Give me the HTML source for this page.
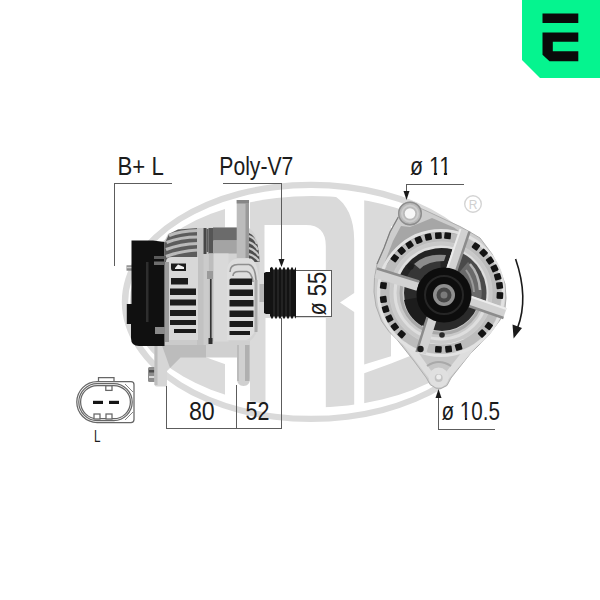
<!DOCTYPE html>
<html>
<head>
<meta charset="utf-8">
<title>Alternator</title>
<style>
html,body{margin:0;padding:0;background:#fff;}
body{width:600px;height:600px;overflow:hidden;font-family:"Liberation Sans",sans-serif;}
svg{display:block;}
text{font-family:"Liberation Sans",sans-serif;fill:#1c1c1c;}
</style>
</head>
<body>
<svg width="600" height="600" viewBox="0 0 600 600">
<defs>
  <clipPath id="innerEl"><ellipse cx="312.200" cy="301.800" rx="182.300" ry="105.750"/></clipPath>
  <clipPath id="eClip"><rect x="100" y="150" width="125" height="300"/></clipPath>
  <linearGradient id="silverV" x1="0" y1="0" x2="0" y2="1">
    <stop offset="0" stop-color="#8c8c8c"/><stop offset="0.3" stop-color="#c9c9c9"/><stop offset="1" stop-color="#d6d6d6"/>
  </linearGradient>
  <linearGradient id="silverH" x1="0" y1="0" x2="1" y2="0">
    <stop offset="0" stop-color="#bdbdbd"/><stop offset="0.5" stop-color="#dedede"/><stop offset="1" stop-color="#b5b5b5"/>
  </linearGradient>
  <radialGradient id="frontBody" cx="0.5" cy="0.5" r="0.5">
    <stop offset="0" stop-color="#555"/><stop offset="0.55" stop-color="#8a8a8a"/><stop offset="0.8" stop-color="#c8c8c8"/><stop offset="1" stop-color="#b0b0b0"/>
  </radialGradient>
</defs>
<rect width="600" height="600" fill="#ffffff"/>

<!-- ===== WATERMARK ===== -->
<g id="wm" fill="#dadada">
  <!-- outer ring -->
  <path fill-rule="evenodd" d="M121.8,301.9 a189.2,120.2 0 1,0 378.4,0 a189.2,120.2 0 1,0 -378.4,0 Z M128.2,301.9 a182.8,113.9 0 1,0 365.6,0 a182.8,113.9 0 1,0 -365.6,0 Z"/>
  <g clip-path="url(#innerEl)">
    <!-- E : band between two ellipses, cut at x=225, plus middle arm -->
    <g clip-path="url(#eClip)">
      <path fill-rule="evenodd" d="M120,180 H225 V425 H120 Z M153.400,301.800 a158.800,74.400 0 1,0 317.600,0 a158.800,74.400 0 1,0 -317.600,0 Z"/>
      <rect x="150" y="288" width="75" height="28"/>
    </g>
    <!-- R -->
    <path fill-rule="evenodd" d="M250,190 H322 C342,196 354.200,212 354.200,240 V293 L340,302.500 L354.200,312 V415 H325.800 V318 H265.500 V415 H250 Z M264.500,225 V300 H325.800 V246 Q325.800,225 306,225 Z"/>
    <!-- A -->
    <path d="M364.200,190 H500 V226 H391 V356.300 L364.200,364.500 Z"/>
    <path d="M364.200,373.300 L391,363.500 L410,356 L440,342 L470,325 V415 H364.200 Z"/>
  </g>
</g>
<!-- ===== SIDE VIEW ALTERNATOR ===== -->
<g id="side">
  <!-- stud -->
  <rect x="126.500" y="265.300" width="6" height="5.400" fill="#8a8a8a"/>
  <rect x="126.500" y="266.800" width="6" height="1.500" fill="#d0d0d0"/>
  <!-- bolt bottom-left -->
  <rect x="148" y="367" width="8" height="15" rx="1.500" fill="#8d8d8d"/>
  <rect x="149" y="370" width="5.500" height="2.500" fill="#4c4c4c"/>
  <rect x="149" y="376" width="5.500" height="2" fill="#d8d8d8"/>
  <!-- rear foot -->
  <path d="M154.500,340 H206 V357.500 H180.500 L167,371 V386.500 H156.500 Q154.500,386.500 154.500,384.500 Z" fill="#d6d6d6"/>
  <path d="M160,340 H206 V357.500 H180.500 L170,368 Z" fill="#bcbcbc"/>
  <path d="M154.500,343 V385 H157.500 V343 Z" fill="#bdbdbd"/>
  <!-- body bottom / front foot -->
  <path d="M206,338 H250 V378 Q250,386 243.500,386 Q237,386 237,378 V357.500 H206 Z" fill="#d0d0d0"/>
  <rect x="245" y="345" width="4.500" height="36" fill="#b0b0b0"/>
  <rect x="237" y="345" width="2" height="36" fill="#bcbcbc"/>
  <!-- rear housing -->
  <path d="M164,242 L168,234 L178,229.500 L203,228 H212 V345 H164 Z" fill="#cbcbcb"/>
  <!-- top fins shading -->
  <path d="M165,243 L169,234 L178,229.500 L198,228 V262 H165 Z" fill="#5c5c5c"/>
  <g stroke="#bababa" stroke-width="3.200" fill="none">
    <path d="M169,235.500 Q180,231 198,230.500"/>
    <path d="M166.500,242.500 Q180,237 198,237"/>
    <path d="M166,249.500 Q180,244 198,243.500"/>
    <path d="M166,256.500 Q180,251 198,250"/>
  </g>
  <rect x="197" y="228" width="6.500" height="117" fill="#c2c2c2"/>
  <path d="M166,262 Q166,257 172,257 H198 V340 H166 Z" fill="#d8d8d8"/>
  <rect x="165" y="262" width="4" height="80" fill="#9c9c9c"/>
  <!-- rear slots -->
  <g fill="#1b1b1b">
    <path d="M171,263.500 H186 V271 H173 Q171,271 171,268 Z"/>
    <path d="M171,278 H188 V284.500 H171 Z"/>
    <path d="M170,288.500 H196 V295 H170 Z"/>
    <path d="M170,299.500 H196 V305.500 H170 Z"/>
    <path d="M170,310 H196 V316 H170 Z"/>
    <path d="M170,320 H196 V325 H170 Z"/>
    <path d="M174,329 H196 V333 H174 Z"/>
  </g>
  <path d="M175,268 L178,264.500 L184,267 V269 H175 Z" fill="#f0f0f0"/>
  <!-- mid section -->
  <rect x="203.500" y="228" width="3" height="26" fill="#474747"/>
  <rect x="206.500" y="229" width="6.500" height="23" fill="#5e5e5e"/>
  <!-- front housing -->
  <path d="M208.500,254 V227.500 H248 Q259,232 259.500,262 V318 Q258,336 250,341 H208.500 Z" fill="#d3d3d3"/>
  <rect x="208.500" y="228" width="5" height="26" fill="#555"/>
  <rect x="213" y="227.500" width="24" height="13" fill="#6b6b6b"/>
  <rect x="213" y="240.500" width="24" height="13" fill="#a4a4a4"/>
  <rect x="208.500" y="253.500" width="20" height="88" fill="#d9d9d9"/>
  <rect x="208.500" y="253.500" width="5" height="88" fill="#bdbdbd"/>
  <rect x="210" y="278" width="1.600" height="64" fill="#333"/>
  <rect x="207" y="271" width="6" height="8" fill="#9a9a9a"/>
  <rect x="208.500" y="338" width="4" height="6" fill="#2f2f2f"/>
  <!-- lug -->
  <rect x="236.700" y="200" width="12.300" height="58" fill="#bcbcbc"/>
  <rect x="236.700" y="200" width="12.300" height="3.500" fill="#868686"/>
  <rect x="245.500" y="203" width="3.500" height="55" fill="#9a9a9a"/>
  <!-- upper right fins -->
  <path d="M249,233 Q259,237 259.500,262 H249 Z" fill="#4d4d4d"/>
  <g stroke="#c9c9c9" stroke-width="2.200" fill="none">
    <path d="M249,236 Q255,238 257,244"/>
    <path d="M249,242 Q255,244 258,250"/>
    <path d="M249,248 Q255,250 259,256"/>
    <path d="M249,254 Q255,256 259,261"/>
  </g>
  <!-- front fins -->
  <path d="M227,272 Q227,258.500 240,258.500 H251 Q259,262 259.300,290 Q259.300,322 256,329 Q252,338 246,340 H227 Z" fill="#dddddd"/>
  <g stroke="#8f8f8f" stroke-width="1.600" fill="none">
    <path d="M230,272 Q230,264.500 238,264.500 H249 Q255,266 256,280"/>
    <path d="M233,276 Q233,271.500 239,271.500 H247 Q252,273 253,282"/>
  </g>
  <g fill="#1b1b1b">
    <path d="M231,278.500 H252 V285 H229.500 V280 Q229.500,278.500 231,278.500 Z"/>
    <path d="M229.500,289.500 H253 V296 H229.500 Z"/>
    <path d="M229.500,300 H253.500 V306.500 H229.500 Z"/>
    <path d="M229.500,310.500 H253.500 V317 H229.500 Z"/>
    <path d="M229.500,321 H253 V327 H229.500 Z"/>
    <path d="M229.500,331 H250 V335 H229.500 Z"/>
  </g>
  <rect x="254.500" y="280" width="3" height="52" fill="#ababab"/>
  <!-- black cover -->
  <path d="M131.500,240.500 H153 L164.500,242 V346 H139 Q131,346 131,338 V324 H126.800 V304 H131.500 Z" fill="#101010"/>
  <rect x="155" y="327" width="10" height="7" fill="#8a8a8a"/>
  <rect x="146" y="262" width="2.500" height="60" fill="#2e2e2e"/>
  <rect x="154" y="256" width="10.500" height="3" fill="#5a5a5a"/>
  <rect x="154" y="261.500" width="10.500" height="3.500" fill="#6e6e6e"/>
  <!-- pulley -->
  <path d="M264,273 L266,272 H270 V268 L272,266.8 L274,270.3 L276,266.8 L278,270.3 L280,266.8 L282,270.3 L284,266.8 L286,270.3 L288,266.8 L290,270.3 L292,266.8 L294,270.3 L296,266.8 V318.800 L294,315.7 L292,319.2 L290,315.7 L288,319.2 L286,315.7 L284,319.2 L282,315.7 L280,319.2 L278,315.7 L276,319.2 L274,315.7 L272,319.2 L270,315.7 V314 H266 L264,313 Z" fill="#131313"/>
  <g stroke="#353535" stroke-width="1">
    <path d="M274,270 V316 M278,270 V316 M282,270 V316 M286,270 V316 M290,270 V316"/>
  </g>
  <rect x="259.500" y="284" width="4.500" height="18" fill="#b5b5b5"/>
</g>

<!-- ===== FRONT VIEW ALTERNATOR ===== -->
<g id="front">
  <!-- hide ring at lower right -->
  <path d="M462,222 H525 V400 H447 V380 L462,360 Z" fill="#fff"/>
  <!-- silhouette -->
  <path d="M398.300,217 L390,232 L384,248 L377,264 L374.500,278 L374,292 L376,306 L381.500,321 L389,331.500 L397,339.500 L414,361 L426.500,378 L430,384.500 L436,388.200 L441,388.400 L447,385.500 L451,378 L470,354 L488,336 L500,320 L505,308 L506,298 L505,284 L500,270 L492,254 L480,238 L470,232 L460,226.500 L448,221 L432,213.500 L421,208.500 Z" fill="#cdcdcd" stroke="#aeaeae" stroke-width="1"/>
  <!-- top web inner shading -->
  <path d="M401,226 L393,241 L386,259 L382,270 L396,256 L416,241 L440,233.500 L464,235 L454,227.500 L432,218 L420,223 L410,227 Z" fill="#a6a6a6"/>
  <path d="M398.300,217 L390,232 L384,248 L377,264" stroke="#7d7d7d" stroke-width="1.200" fill="none"/>
  <!-- bottom web -->
  <path d="M401,342 L431,381 L439,386 L446,382 L484,338 Z" fill="#dedede"/>
  <path d="M418,352 L432,372 H446 L462,352 Z" fill="#c6c6c6"/>
  <!-- main body rings -->
  <circle cx="441" cy="293" r="62.500" fill="none" stroke="#e2e2e2" stroke-width="3"/>
  <circle cx="441" cy="293" r="56" fill="none" stroke="#bcbcbc" stroke-width="9"/>
  <circle cx="441" cy="293" r="51" fill="#c9c9c9"/>
  <circle cx="441" cy="293" r="46" fill="none" stroke="#dedede" stroke-width="3"/>
  <circle cx="441.500" cy="293" r="40.500" fill="none" stroke="#a8a8a8" stroke-width="3"/>
    <!-- interior gray details (windings) -->
  <circle cx="442" cy="293" r="38" fill="#2a2a2a"/>
  <path d="M441.5,293.0 L398.2,280.6 A45,45 0 0 1 452.4,249.3 Z" fill="#242424"/>
  <path d="M441.5,293.0 L456.9,250.7 A45,45 0 0 1 485.5,302.4 Z" fill="#4a4a4a"/>
  <path d="M442,293 L468,262 A40,40 0 0 1 481,300 Z" fill="#6a6a6a"/>
  <path d="M470,264 Q479,274 480,290" stroke="#b5b5b5" stroke-width="2.500" fill="none"/>
  <path d="M466,270 Q473,279 474,292" stroke="#9a9a9a" stroke-width="2" fill="none"/>
  <path d="M442,293 L404,300 A38,38 0 0 0 422,326 Z" fill="#1c1c1c"/>
  <path d="M442,293 L406,279 A38,38 0 0 1 440,255 Z" fill="#363636"/>
  <path d="M414,264 Q426,253 446,255 L444,261 Q428,261 420,269 Z" fill="#8c8c8c"/>
  <!-- spokes -->
  <g stroke="#d2d2d2" stroke-width="10" stroke-linecap="butt">
    <path d="M451,270 L464.500,230"/>
    <path d="M466,299.500 L505,313"/>
    <path d="M432,318 L421,353"/>
    <path d="M418,286 L376,273"/>
  </g>
  <g stroke="#8c8c8c" stroke-width="2.500">
    <path d="M456,271.500 L469.500,231.500"/>
    <path d="M464.500,304.500 L503.500,318"/>
    <path d="M427.500,317 L416.500,352"/>
    <path d="M419,281.500 L377,268.500"/>
  </g>
  <g stroke="#ececec" stroke-width="2">
    <path d="M447,269 L460.500,229"/>
    <path d="M467.500,295.500 L506.500,309"/>
  </g>
  <!-- top ear -->
  <circle cx="410" cy="213.500" r="12" fill="#b9b9b9"/>
  <circle cx="410" cy="213.500" r="11.300" fill="none" stroke="#8d8d8d" stroke-width="1.400"/>
  <circle cx="410" cy="213.500" r="8" fill="none" stroke="#cdcdcd" stroke-width="2"/>
  <circle cx="410" cy="213.500" r="5.300" fill="#f7f7f7"/>
  <!-- bottom ear -->
  <circle cx="438.700" cy="377.500" r="10" fill="#e0e0e0"/>
  <path d="M427,366 Q438.700,358 451,366" stroke="#a9a9a9" stroke-width="2" fill="none"/>
  <circle cx="438.700" cy="378" r="4" fill="#c3c3c3"/>
  <circle cx="438.700" cy="377" r="2.500" fill="#ededed"/>
  <!-- squares -->
  <g id="squares">
<rect x="380.1" y="282.3" width="6.6" height="6.6" rx="1" transform="rotate(187 383.4 285.6)" fill="#141414"/>
<rect x="391.5" y="254.9" width="6.6" height="6.6" rx="1" transform="rotate(217 394.8 258.2)" fill="#141414"/>
<rect x="398.3" y="247.5" width="6.6" height="6.6" rx="1" transform="rotate(227 401.6 250.8)" fill="#141414"/>
<rect x="406.3" y="241.4" width="6.6" height="6.6" rx="1" transform="rotate(237 409.6 244.7)" fill="#141414"/>
<rect x="415.3" y="236.7" width="6.6" height="6.6" rx="1" transform="rotate(247 418.6 240.0)" fill="#141414"/>
<rect x="425.0" y="233.7" width="6.6" height="6.6" rx="1" transform="rotate(257 428.3 237.0)" fill="#141414"/>
<rect x="435.1" y="232.3" width="6.6" height="6.6" rx="1" transform="rotate(267 438.4 235.6)" fill="#141414"/>
<rect x="444.3" y="232.5" width="6.6" height="6.6" rx="1" transform="rotate(276 447.6 235.8)" fill="#141414"/>
<rect x="472.6" y="243.1" width="6.6" height="6.6" rx="1" transform="rotate(-54 475.9 246.4)" fill="#141414"/>
<rect x="480.3" y="249.6" width="6.6" height="6.6" rx="1" transform="rotate(-44 483.6 252.9)" fill="#141414"/>
<rect x="486.7" y="257.3" width="6.6" height="6.6" rx="1" transform="rotate(-34 490.0 260.6)" fill="#141414"/>
<rect x="491.2" y="265.1" width="6.6" height="6.6" rx="1" transform="rotate(-25 494.5 268.4)" fill="#141414"/>
<rect x="494.4" y="273.5" width="6.6" height="6.6" rx="1" transform="rotate(-16 497.7 276.8)" fill="#141414"/>
<rect x="496.3" y="282.3" width="6.6" height="6.6" rx="1" transform="rotate(-7 499.6 285.6)" fill="#141414"/>
<rect x="496.6" y="292.2" width="6.6" height="6.6" rx="1" transform="rotate(3 499.9 295.5)" fill="#141414"/>
<rect x="485.5" y="322.7" width="6.6" height="6.6" rx="1" transform="rotate(36 488.8 326.0)" fill="#141414"/>
<rect x="478.8" y="330.2" width="6.6" height="6.6" rx="1" transform="rotate(46 482.1 333.5)" fill="#141414"/>
<rect x="455.3" y="343.7" width="6.6" height="6.6" rx="1" transform="rotate(73 458.6 347.0)" fill="#141414"/>
<rect x="445.3" y="345.8" width="6.6" height="6.6" rx="1" transform="rotate(83 448.6 349.1)" fill="#141414"/>
<rect x="435.1" y="346.1" width="6.6" height="6.6" rx="1" transform="rotate(93 438.4 349.4)" fill="#141414"/>
<rect x="398.3" y="330.9" width="6.6" height="6.6" rx="1" transform="rotate(133 401.6 334.2)" fill="#141414"/>
<rect x="391.5" y="323.5" width="6.6" height="6.6" rx="1" transform="rotate(143 394.8 326.8)" fill="#141414"/>
<rect x="386.1" y="315.1" width="6.6" height="6.6" rx="1" transform="rotate(153 389.4 318.4)" fill="#141414"/>
<rect x="382.3" y="305.9" width="6.6" height="6.6" rx="1" transform="rotate(163 385.6 309.2)" fill="#141414"/>
<rect x="380.1" y="296.1" width="6.6" height="6.6" rx="1" transform="rotate(173 383.4 299.4)" fill="#141414"/>

  </g>
  <!-- small bolts -->
  <circle cx="410.500" cy="266.500" r="3.200" fill="#1d1d1d"/>
  <circle cx="420.500" cy="349" r="3.200" fill="#1d1d1d"/>
  <circle cx="442" cy="335" r="2.800" fill="#2a2a2a"/>
  <!-- pulley -->
  <circle cx="444" cy="295" r="27.500" fill="#0d0d0d"/>
  <circle cx="444" cy="295" r="19" fill="none" stroke="#262626" stroke-width="2"/>
  <circle cx="444" cy="295" r="11" fill="#8f8f8f"/>
  <circle cx="444" cy="295" r="7.500" fill="#474747"/>
  <circle cx="444" cy="295" r="3.500" fill="#7a7a7a"/>
</g>

<!-- registered mark -->
<circle cx="473" cy="204" r="8.3" fill="none" stroke="#d4d4d4" stroke-width="1.4"/>
<text x="473" y="208.500" font-size="12" text-anchor="middle" style="fill:#d0d0d0">R</text>

<!-- ===== DIMENSION LINES ===== -->
<g id="lines" stroke="#5c5c5c" stroke-width="1" fill="none" shape-rendering="crispEdges">
  <path d="M114.500,266 V183.500 H171.500"/>
  <path d="M223,183.500 H281.500 V261"/>
  <path d="M166.500,386 V428.500 H281.500 V318"/>
  <path d="M236.500,385 V428.500"/>
  <path d="M406.500,192 V184.500 H463.500"/>
  <path d="M438.500,397 V429.500 H494.500"/>
</g>
<rect x="296" y="270" width="35.500" height="46.500" fill="#fff"/>
<path d="M296,270 H331.500 V316.500 H296" stroke="#5c5c5c" stroke-width="1" fill="none" shape-rendering="crispEdges"/>
<g fill="#1a1a1a">
  <path d="M278.500,259 H284.500 L281.500,267 Z"/>
  <path d="M403.500,191 H409.500 L406.500,200 Z"/>
  <path d="M435.500,398 H441.500 L438.500,389 Z"/>
</g>
<!-- rotation arrow -->
<path d="M515.600,259 Q529,298 517.500,328" stroke="#1a1a1a" stroke-width="1.600" fill="none"/>
<path d="M512.500,324.500 L522,328 L513.600,338.500 Z" fill="#1a1a1a"/>

<!-- ===== TEXT ===== -->
<g font-size="25">
  <text x="117.500" y="175" textLength="46.200" lengthAdjust="spacingAndGlyphs">B+ L</text>
  <text x="219.300" y="175" textLength="74" lengthAdjust="spacingAndGlyphs">Poly-V7</text>
  <text x="410.100" y="175" textLength="41" lengthAdjust="spacingAndGlyphs">ø 11</text>
  <text x="441.500" y="420" textLength="58.500" lengthAdjust="spacingAndGlyphs">ø 10.5</text>
  <text x="188.900" y="420.300" textLength="25.800" lengthAdjust="spacingAndGlyphs">80</text>
  <text x="245.500" y="420" textLength="23.900" lengthAdjust="spacingAndGlyphs">52</text>
  <text transform="translate(326.300,315.600) rotate(-90)" x="0" y="0" textLength="43.600" lengthAdjust="spacingAndGlyphs">ø 55</text>
</g>
<!-- trim serifs of "1" -->
<g fill="#fff">
  <rect x="428.500" y="172.500" width="5.400" height="3"/>
  <rect x="437.100" y="172.500" width="6.800" height="3"/>
  <rect x="447.100" y="172.500" width="4.500" height="3"/>
  <rect x="460" y="417.500" width="4.900" height="3"/>
  <rect x="467.100" y="417.500" width="4.500" height="3"/>
</g>
<text x="94" y="442" font-size="16.500" textLength="6.500" lengthAdjust="spacingAndGlyphs">L</text>

<!-- ===== CONNECTOR ICON ===== -->
<g id="conn" fill="none" stroke="#666666" stroke-width="1.250">
  <path d="M98.500,381.700 V377.500 H114 V381.700" />
  <path d="M97.200,381.700 H131 Q134,381.700 134,384.700 V419.500 Q134,422.500 131,422.500 H97.200 A20.400,20.400 0 0 1 97.200,381.700 Z"/>
  <rect x="78.800" y="383.700" width="53.400" height="36.800" rx="18.400"/>
  <rect x="80.600" y="385.500" width="49.800" height="33.200" rx="16.600"/>
  <rect x="105.800" y="385.800" width="6.200" height="4.600" fill="#fff"/>
  <rect x="94" y="414" width="6" height="5" fill="#fff"/>
  <rect x="106" y="414" width="6" height="5" fill="#fff"/>
  <path d="M125,384 L133,392 M125,420 L133,412" stroke-width="0.800"/>
</g>
<rect x="93" y="400.800" width="10" height="3.200" fill="#151515"/>
<rect x="109" y="400.800" width="10" height="3.200" fill="#151515"/>

<!-- ===== GREEN BADGE ===== -->
<path d="M522,0 H600 V78 H540 L522,60 Z" fill="#05f48f"/>
<path d="M542.500,13.500 H578.300 V23 H542.500 Z" fill="#0a0a0a"/>
<path d="M542.500,32.500 H578.300 V41.800 H552.800 V51.300 H578.300 V61.300 H549.500 L542.500,54.800 Z" fill="#0a0a0a"/>

</svg>
</body>
</html>
